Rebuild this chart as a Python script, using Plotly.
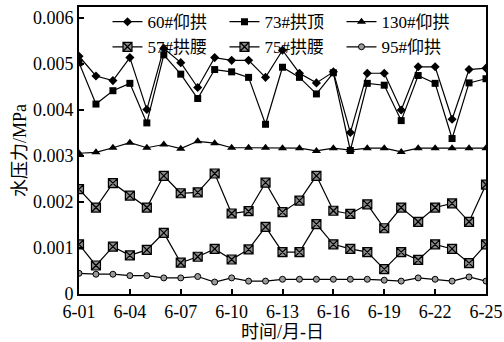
import plotly.graph_objects as go

days = [f"6-{d:02d}" for d in range(1, 26)]
tick_labels = ["6-01", "6-04", "6-07", "6-10", "6-13", "6-16", "6-19", "6-22", "6-25"]

s60 = [5.17, 4.74, 4.64, 5.14, 4.01, 5.34, 5.03, 4.49, 5.14, 5.08, 5.08, 4.71, 5.30,
       4.80, 4.59, 4.83, 3.51, 4.80, 4.80, 4.00, 4.94, 4.94, 3.80, 4.88, 4.91]
s73 = [5.03, 4.13, 4.42, 4.58, 3.72, 5.20, 4.78, 4.25, 4.88, 4.83, 4.71, 3.69, 4.93,
       4.71, 4.35, 4.81, 3.12, 4.58, 4.54, 3.77, 4.75, 4.58, 3.38, 4.59, 4.68]
s130 = [3.06, 3.08, 3.18, 3.29, 3.18, 3.25, 3.16, 3.32, 3.28, 3.18, 3.18, 3.18, 3.17,
        3.17, 3.11, 3.17, 3.13, 3.17, 3.17, 3.09, 3.17, 3.17, 3.17, 3.17, 3.17]
s57 = [2.28, 1.88, 2.41, 2.14, 1.88, 2.57, 2.19, 2.21, 2.62, 1.75, 1.80, 2.42, 1.78,
       2.03, 2.57, 1.81, 1.74, 1.95, 1.43, 1.88, 1.57, 1.88, 1.97, 1.57, 2.38]
s75 = [1.08, 0.62, 1.03, 0.84, 0.96, 1.33, 0.68, 0.81, 0.98, 0.75, 0.97, 1.46, 0.91,
       0.91, 1.52, 1.08, 0.98, 0.91, 0.54, 0.91, 0.74, 1.08, 0.98, 0.67, 1.08]
s95 = [0.45, 0.43, 0.43, 0.40, 0.40, 0.35, 0.35, 0.38, 0.26, 0.35, 0.28, 0.28, 0.32,
       0.32, 0.32, 0.32, 0.32, 0.32, 0.30, 0.28, 0.35, 0.32, 0.28, 0.37, 0.28]

names = ["60#仰拱", "73#拱顶", "130#仰拱", "57#拱腰", "75#拱腰", "95#仰拱"]
series = [s60, s73, s130, s57, s75, s95]

FONT = "'Liberation Serif', 'Noto Sans CJK SC', serif"

styles = [
    dict(symbol="diamond", size=7, color="black", line=dict(color="black", width=0)),
    dict(symbol="square", size=7, color="black", line=dict(color="black", width=0)),
    dict(symbol="triangle-up", size=8, color="black", line=dict(color="black", width=0)),
    dict(symbol="square-x", size=9, color="#8a8a8a", line=dict(color="black", width=1.2)),
    dict(symbol="square-x", size=9, color="#8a8a8a", line=dict(color="black", width=1.2)),
    dict(symbol="circle", size=6, color="#9a9a9a", line=dict(color="black", width=1)),
]

fig = go.Figure()
for name, vals, st in zip(names, series, styles):
    fig.add_trace(go.Scatter(
        x=days, y=[v / 1000 for v in vals], name=name, mode="lines+markers",
        line=dict(color="black", width=1.2), marker=st,
    ))

fig.update_layout(
    width=504, height=342,
    margin=dict(l=79, r=18, t=7, b=48, autoexpand=False),
    paper_bgcolor="white", plot_bgcolor="white",
    font=dict(family=FONT, size=17, color="black"),
    showlegend=True,
    legend=dict(orientation="h", x=0.07, xanchor="left", y=1.01, yanchor="top",
                entrywidth=72, bgcolor="rgba(0,0,0,0)", font=dict(size=17),
                itemwidth=30, tracegroupgap=0),
)
fig.update_xaxes(
    type="category", range=[0, 24], tickmode="array",
    tickvals=tick_labels, ticktext=tick_labels,
    ticks="inside", ticklen=5, tickwidth=1.5, tickcolor="black",
    showline=True, linecolor="black", linewidth=2, mirror=True,
    showgrid=False, zeroline=False, automargin=False,
    tickfont=dict(size=18),
    title=dict(text="时间/月-日", font=dict(size=18), standoff=0),
)
fig.update_yaxes(
    range=[0, 0.00624], tickvals=[0, 0.001, 0.002, 0.003, 0.004, 0.005, 0.006],
    ticktext=["0", "0.001", "0.002", "0.003", "0.004", "0.005", "0.006"],
    ticks="inside", ticklen=5, tickwidth=1.5, tickcolor="black",
    showline=True, linecolor="black", linewidth=2, mirror=True,
    showgrid=False, zeroline=False, automargin=False,
    tickfont=dict(size=18),
    title=dict(text="水压力/MPa", font=dict(size=18), standoff=2),
)

fig.write_html("out.html", config={"displayModeBar": False},
               post_script="document.body.style.margin='0';document.body.style.padding='0';")
